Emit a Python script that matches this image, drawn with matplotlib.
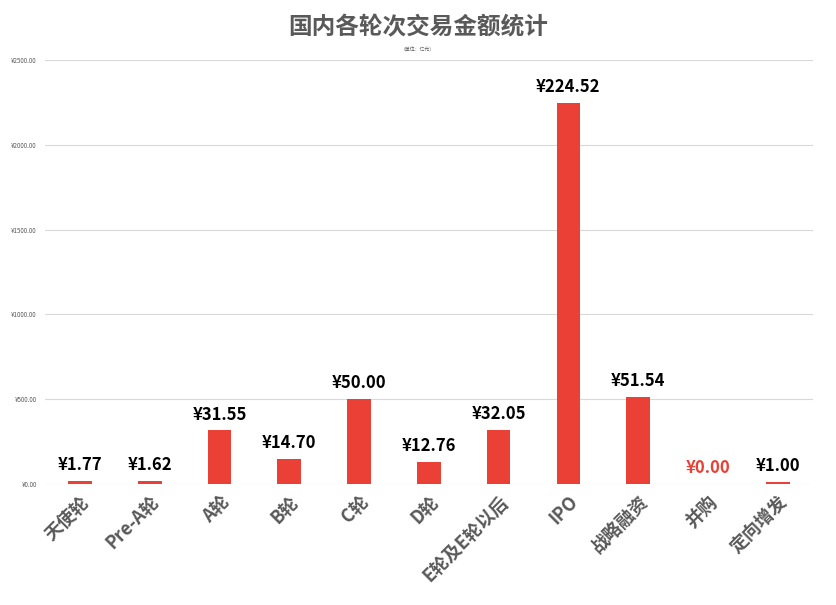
import matplotlib
matplotlib.use('Agg')
import matplotlib.pyplot as plt
from matplotlib.ticker import FuncFormatter

plt.rcParams['font.family'] = ['Noto Sans CJK SC', 'DejaVu Sans']

categories = ['天使轮', 'Pre-A轮', 'A轮', 'B轮', 'C轮', 'D轮', 'E轮及E轮以后',
              'IPO', '战略融资', '并购', '定向增发']
amounts = [1.77, 1.62, 31.55, 14.70, 50.00, 12.76, 32.05, 224.52, 51.54, 0.00, 1.00]
# bars are drawn on a x10 scale, as in the original chart
bar_scale = 10
yticks = [0, 500, 1000, 1500, 2000, 2500]

bar_color = '#EA4035'
text_gray = '#595959'

fig = plt.figure(figsize=(8.36, 6.05), dpi=100)
ax = fig.add_axes([0.054, 0.2, 0.918, 0.7008])

x = range(len(categories))
heights = [a * bar_scale for a in amounts]
ax.bar(x, heights, width=0.34, color=bar_color, zorder=3)

for i, a in enumerate(amounts):
    col = bar_color if a == 0 else 'black'
    ax.annotate('¥%.2f' % a, (i, heights[i]), xytext=(0, 5), textcoords='offset points',
                ha='center', va='bottom', fontsize=12, fontweight='bold', color=col)

ax.set_xlim(-0.5, len(categories) - 0.5)
ax.set_ylim(0, 2500)
ax.set_yticks(yticks)
ax.yaxis.set_major_formatter(FuncFormatter(lambda v, p: '¥%.2f' % v))
ax.grid(axis='y', color='#D9D9D9', linewidth=0.8, zorder=0)
for s in ax.spines.values():
    s.set_visible(False)
ax.tick_params(axis='y', length=0, labelsize=4.5, labelcolor=text_gray, pad=6)
ax.tick_params(axis='x', length=0, pad=6)
ax.set_xticks(list(x))
ax.set_xticklabels(categories, rotation=45, ha='right', rotation_mode='anchor',
                   fontsize=13, fontweight='bold', color=text_gray)

fig.text(0.5, 0.955, '国内各轮次交易金额统计', ha='center', va='center',
         fontsize=17, fontweight='bold', color=text_gray)
fig.text(0.5, 0.918, '（单位：亿元）', ha='center', va='center', fontsize=3.5, color=text_gray)

fig.savefig('out.png', dpi=100)
